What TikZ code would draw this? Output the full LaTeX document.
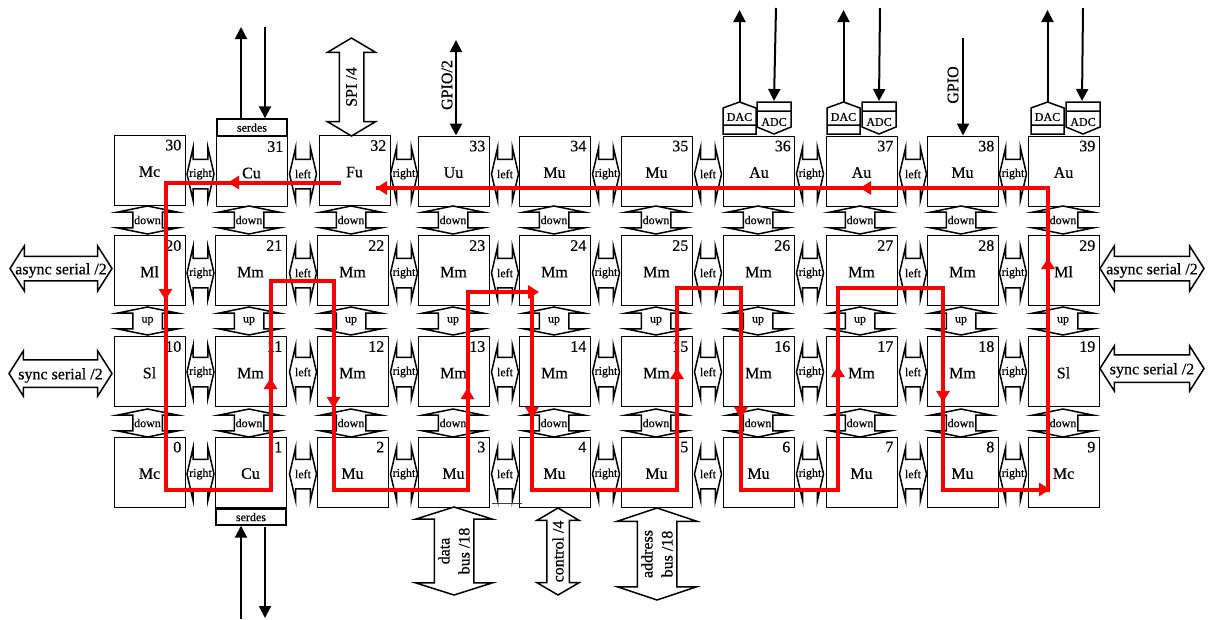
\documentclass[tikz,border=0pt]{standalone}
\usepackage{fontspec}
\setmainfont{Liberation Serif}[FakeBold=0.5]
\usetikzlibrary{shapes.arrows,arrows.meta}
\tikzset{
    bigtext/.style={font=\fontsize{16}{20}\selectfont},
    smalltext/.style={font=\fontsize{12}{14}\selectfont, inner sep=0pt},
    porttext/.style={bigtext, inner sep=0pt, align=center},
    sidetext/.style={porttext, yshift=-2pt},
    cell/.style={draw, line width=1pt, minimum width=71, minimum height=70, inner sep=0pt, bigtext,
        text height=13.6pt, text depth=0pt},
    cellnum/.style={bigtext, inner sep=0pt, anchor=north east, xshift=-4pt, yshift=-5pt},
    blockarrow/.style n args={4}{draw, shape=double arrow, outer sep=0pt, inner xsep=0pt, inner ysep={#3/2},
        minimum height=#1, minimum width=#2, double arrow head extend={(#2-#3)/2},
        double arrow tip angle={2*atan(#2/(2*#4))}},
    hlink/.style={blockarrow={27}{52}{28}{6}, line width=1.5pt},
    vlink/.style={blockarrow={28}{59}{28}{6}, inner xsep=14pt, inner ysep=0pt, shape border rotate=90, line width=1.5pt},
    port/.style={line width=1.5pt},
    sig/.style={line width=2pt, -{Triangle[length=12,width=12]}},
    flow/.style={draw=red, line width=4pt},
    flowtip/.style={flow, -{Triangle[length=11,width=13]}},
    conv/.style={line width=1.5pt}
}
\begin{document}
\begin{tikzpicture}[x=1pt,y=-1pt]
    \useasboundingbox (0,0) rectangle (1208,619);
    % cells, top row is a little off the grid
    \foreach \nm/\cx/\cy [count=\i from 30] in {Mc/149.5/170, Cu/251.5/171.5, Fu/354.5/170.5, Uu/453.5/171,
        Mu/554.5/171, Mu/656.5/171, Au/759/171, Au/861.5/171, Mu/962.5/171, Au/1063.5/171} {
        \node[cell] (c\i) at (\cx,\cy) {\nm};
        \node[cellnum] (n\i) at (c\i.north east) {\i};
    }
    \def\colx{{149.5,250.5,352.5,453.5,554.5,656.5,758.5,861.5,962.5,1063.5}}
    \foreach \row/\rowy/\names in {2/270.5/{Ml,Mm,Mm,Mm,Mm,Mm,Mm,Mm,Mm,Ml},
        1/371.5/{Sl,Mm,Mm,Mm,Mm,Mm,Mm,Mm,Mm,Sl},
        0/472/{Mc,Cu,Mu,Mu,Mu,Mu,Mu,Mu,Mu,Mc}} {
        \foreach \nm [count=\i from 0] in \names {
            \pgfmathsetmacro\cx{\colx[\i]}
            \pgfmathtruncatemacro\num{10*\row+\i}
            \node[cell] (c\num) at (\cx,\rowy) {\nm};
            \node[cellnum] (n\num) at (c\num.north east) {\num};
        }
    }
    % links between the cells
    \foreach \rowy [count=\r] in {174,273,372,474} {
        \foreach \cx/\nm [count=\i] in {200.5/right,303/left,404/right,505/left,606/right,708/left,810/right,913/left,1013/right} {
            \node[hlink, label={[smalltext]center:\nm}] (h\r-\i) at (\cx,\rowy) {};
        }
    }
    \foreach \rowy/\nm [count=\r] in {220/down,321/up,423/down} {
        \foreach \cx [count=\i] in {147.5,249,351,453,554,656,758,860,961,1063} {
            \node[vlink, label={[smalltext]center:\nm}] (v\r-\i) at (\cx,\rowy) {};
        }
    }
    % ports
    \node[blockarrow={98}{47}{23}{14}, rotate=90, port, label={[porttext, rotate=90]center:SPI /4}] (spi) at (351.5,87) {};
    \node[blockarrow={88}{76}{38}{12}, rotate=90, port, label={[porttext, rotate=90]center:{data\\bus /18}}] (databus) at (454,551) {};
    \node[blockarrow={87}{41}{21}{12}, rotate=90, port, label={[porttext, rotate=90]center:control /4}] (controlbus) at (558,551.5) {};
    \node[blockarrow={92}{78}{38}{13}, rotate=90, port, label={[porttext, rotate=90]center:{address\\bus /18}}] (addressbus) at (657,554) {};
    \node[blockarrow={102}{44}{23}{14}, port, label={[sidetext]center:async serial /2}] (asyncl) at (61,268.5) {};
    \node[blockarrow={103}{44}{26}{14}, port, label={[sidetext]center:sync serial /2}] (syncl) at (60.5,373.5) {};
    \node[blockarrow={104}{44}{23}{14}, port, label={[sidetext]center:async serial /2}] (asyncr) at (1152,268.5) {};
    \node[blockarrow={104}{44}{26}{14}, port, label={[sidetext]center:sync serial /2}] (syncr) at (1152,368.5) {};
    % serdes
    \node[draw, line width=1.4pt, smalltext, minimum width=70, minimum height=17] (serdest) at (252,127.5) {serdes};
    \node[draw, line width=1.4pt, smalltext, minimum width=70, minimum height=16] (serdesb) at (251,517) {serdes};
    \coordinate (st1) at (241,27);
    \coordinate (st2) at (265,27);
    \coordinate (sb1) at (241,619);
    \coordinate (sb2) at (265,618);
    \coordinate (sb3) at (265,527);
    \draw[sig] (serdest.north -| st1) -- (st1);
    \draw[sig] (st2) -- (serdest.north -| st2);
    \draw[sig] (sb1) -- (serdesb.south -| sb1);
    \draw[sig] (sb3) -- (sb2);
    % gpio
    \coordinate (g1) at (456,40);
    \coordinate (g2) at (963,38);
    \draw[sig, {Triangle[length=12,width=12]}-{Triangle[length=12,width=12]}] (g1) -- (c33.north -| g1);
    \draw[sig] (g2) -- (c38.north -| g2);
    \node[bigtext, rotate=90, inner sep=0pt] (gpio2) at (447,85) {GPIO/2};
    \node[bigtext, rotate=90, inner sep=0pt] (gpio) at (953,85) {GPIO};
    % converters
    \foreach \dx/\ax/\tx/\bx [count=\i] in {723/757/776/774, 827/862/880/879, 1031/1066/1083/1082} {
        \draw[conv] (\dx,134) -- (\dx,108) -- (\dx+16.5,102) -- (\dx+33,108) -- (\dx+33,134) -- cycle (\dx,125) -- (\dx+33,125);
        \draw[conv] (\ax,102) -- (\ax+34,102) -- (\ax+34,127) -- (\ax+17,134) -- (\ax,127) -- cycle (\ax,111) -- (\ax+34,111);
        \node[smalltext] (dac\i) at (\dx+16.5,117) {DAC};
        \node[smalltext] (adc\i) at (\ax+17,122) {ADC};
        \coordinate (dt\i) at (\dx+16.5,102);
        \coordinate (du\i) at (\dx+16.5,10);
        \coordinate (au\i) at (\tx,8);
        \coordinate (ad\i) at (\bx,101);
        \draw[sig] (dt\i) -- (du\i);
        \draw[sig] (au\i) -- (ad\i);
    }
    \coordinate (s1) at (492,503);
    \coordinate (s2) at (522,503);
    \draw[line width=1pt, black!75] (s1) -- (s2);
    % test route
    \foreach \name/\x/\y in {a0/341/182.5, a1/165.5/182.5, a2/165.5/489.5, a3/270.5/489.5, a4/270.5/281, a5/333.5/281,
        a6/333.5/489.5, a7/467.5/489.5, a8/467.5/292, a9/532/292, a10/532/489.5, a11/677/489.5, a12/677/288,
        a13/741/288, a14/741/489.5, a15/838/489.5, a16/838/288, a17/943/288, a18/943/489.5, a19/1050/489.5,
        b0/1048/489.5, b1/1048/188, b2/376/188,
        t1/228/182.5, t2/165.5/300, t3/270.5/378, t4/333.5/408, t5/467.5/388, t6/539/292, t7/532/418,
        t8/677/368, t9/741/418, t10/838/366, t11/943/402, t12/1048/258, t13/860/188} {
        \coordinate (\name) at (\x,\y);
    }
    \draw[flow] (a0) -- (a1) -- (a2) -- (a3) -- (a4) -- (a5) -- (a6) -- (a7) -- (a8) -- (a9) -- (a10)
        -- (a11) -- (a12) -- (a13) -- (a14) -- (a15) -- (a16) -- (a17) -- (a18) -- (a19);
    \draw[flow] (b0) -- (b1) -- (b2);
    \foreach \from/\to in {a0/t1, a1/t2, a3/t3, a5/t4, a7/t5, a8/t6, a9/t7, a11/t8, a13/t9, a15/t10, a17/t11,
        a18/a19, b0/t12, b1/t13, b1/b2} {
        \draw[flowtip] (\from) -- (\to);
    }
\end{tikzpicture}
\end{document}
